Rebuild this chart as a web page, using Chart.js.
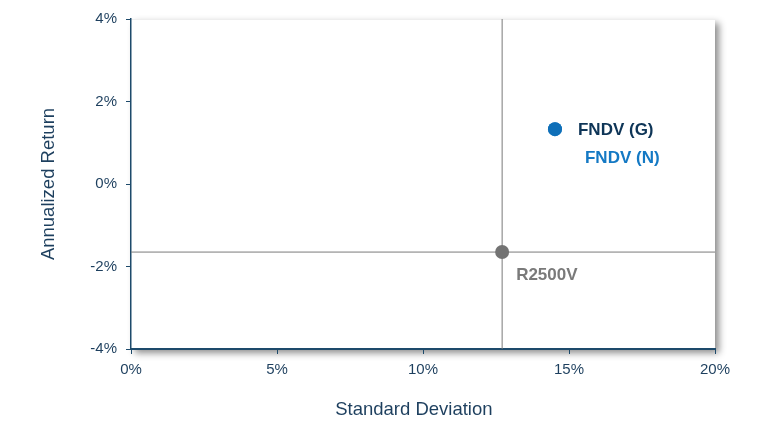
<!DOCTYPE html>
<html>
<head>
<meta charset="utf-8">
<script src="https://cdn.jsdelivr.net/npm/chart.js@4.4.1/dist/chart.umd.min.js"></script>
<style>
  html, body { margin: 0; padding: 0; background: #fff; }
  #wrap { width: 765px; height: 438px; }
</style>
</head>
<body>
<div id="wrap"><canvas id="riskChart"></canvas></div>
<script>
const fundNames = ['FNDV (N)', 'FNDV (G)', 'R2500V'];
const stdDev = [14.52, 14.52, 12.71];      // x, %
const annReturn = [1.33, 1.33, -1.65];     // y, %
const xTicks = [0, 5, 10, 15, 20];
const yTicks = [-4, -2, 0, 2, 4];
const xTitle = 'Standard Deviation';
const yTitle = 'Annualized Return';

const navy = '#1d4a6b';
const textNavy = '#1d3f5e';
const gray = '#7a7a7a';
const fontFamily = '"Liberation Sans", Arial, sans-serif';

// label placement per point (pixel offsets from the dot)
const labelStyle = [
    { color: '#1479c4', dx: 30, dy: 29 },
    { color: '#0e3557', dx: 23, dy: 1 },
    { color: '#7a7a7a', dx: 14, dy: 23 }
];

const bench = stdDev.length - 1;

const shadowPlugin = {
    id: 'areaShadow',
    beforeDraw(chart) {
        const { ctx, chartArea: a } = chart;
        ctx.save();
        ctx.shadowColor = 'rgba(0,0,0,0.45)';
        ctx.shadowBlur = 7;
        ctx.shadowOffsetX = 4;
        ctx.shadowOffsetY = 4;
        ctx.fillStyle = '#fff';
        ctx.fillRect(a.left, a.top, a.right - a.left, a.bottom - a.top);
        ctx.restore();
        ctx.save();
        ctx.strokeStyle = '#eeeeee';
        ctx.beginPath();
        ctx.moveTo(a.left, a.top + 0.5);
        ctx.lineTo(a.right, a.top + 0.5);
        ctx.stroke();
        ctx.restore();
    }
};

const labelPlugin = {
    id: 'pointLabels',
    afterDatasetsDraw(chart) {
        const { ctx, scales } = chart;
        ctx.save();
        ctx.font = 'bold 17px ' + fontFamily;
        ctx.textBaseline = 'middle';
        ctx.textAlign = 'left';
        fundNames.forEach(function(name, i) {
            const x = scales.x.getPixelForValue(stdDev[i]);
            const y = scales.y.getPixelForValue(annReturn[i]);
            ctx.fillStyle = labelStyle[i].color;
            ctx.fillText(name, x + labelStyle[i].dx, y + labelStyle[i].dy);
        });
        // x axis title sits a little left of the plot centre in the original
        ctx.font = '18.5px ' + fontFamily;
        ctx.fillStyle = textNavy;
        ctx.textAlign = 'center';
        ctx.fillText(xTitle, chart.width * 0.541, chart.height - 28);
        ctx.restore();
    }
};

document.addEventListener('DOMContentLoaded', function() {
    const ctx = document.getElementById('riskChart').getContext('2d');
    const chart = new Chart(ctx, {
        type: 'scatter',
        data: {
            datasets: [
                {
                    type: 'line',
                    label: 'vline',
                    data: [{ x: stdDev[bench], y: yTicks[0] }, { x: stdDev[bench], y: yTicks[yTicks.length - 1] }],
                    borderColor: gray,
                    borderWidth: 1,
                    pointRadius: 0,
                    order: 5
                },
                {
                    type: 'line',
                    label: 'hline',
                    data: [{ x: xTicks[0], y: annReturn[bench] }, { x: xTicks[xTicks.length - 1], y: annReturn[bench] }],
                    borderColor: gray,
                    borderWidth: 1,
                    pointRadius: 0,
                    order: 5
                },
                {
                    label: fundNames[0],
                    data: [{ x: stdDev[0], y: annReturn[0] }],
                    backgroundColor: '#1479c4',
                    borderWidth: 0,
                    pointRadius: 7,
                    order: 2
                },
                {
                    label: fundNames[1],
                    data: [{ x: stdDev[1], y: annReturn[1] }],
                    backgroundColor: '#0f6fb8',
                    borderWidth: 0,
                    pointRadius: 7,
                    order: 1
                },
                {
                    label: fundNames[2],
                    data: [{ x: stdDev[2], y: annReturn[2] }],
                    backgroundColor: '#737373',
                    borderWidth: 0,
                    pointRadius: 7,
                    order: 1
                }
            ]
        },
        options: {
            responsive: true,
            maintainAspectRatio: false,
            animation: false,
            layout: { padding: { top: 19, right: 50, left: 0, bottom: 0 } },
            scales: {
                x: {
                    type: 'linear',
                    min: 0,
                    max: 20,
                    afterFit: function(scale) { scale.height = 89; },
                    afterBuildTicks: function(scale) { scale.ticks = xTicks.map(v => ({ value: v })); },
                    border: { color: navy, width: 2 },
                    grid: { drawOnChartArea: false, color: navy, tickLength: 5, lineWidth: 1 },
                    ticks: {
                        color: textNavy,
                        padding: 7,
                        font: { family: fontFamily, size: 15 },
                        callback: function(value) { return value + '%'; }
                    },
                    title: { display: false }
                },
                y: {
                    type: 'linear',
                    min: -4,
                    max: 4,
                    afterFit: function(scale) { scale.width = 131; },
                    afterBuildTicks: function(scale) { scale.ticks = yTicks.map(v => ({ value: v })); },
                    border: { color: navy, width: 1.5 },
                    grid: { drawOnChartArea: false, color: navy, tickLength: 5, lineWidth: 1 },
                    ticks: {
                        color: textNavy,
                        padding: 9,
                        font: { family: fontFamily, size: 15 },
                        callback: function(value) { return value + '%'; }
                    },
                    title: {
                        display: true,
                        text: yTitle,
                        color: textNavy,
                        font: { family: fontFamily, size: 18.5 },
                        padding: { top: 38, bottom: 0 }
                    }
                }
            },
            plugins: {
                legend: { display: false },
                tooltip: { enabled: false }
            }
        },
        plugins: [shadowPlugin, labelPlugin]
    });
});
</script>
</body>
</html>
